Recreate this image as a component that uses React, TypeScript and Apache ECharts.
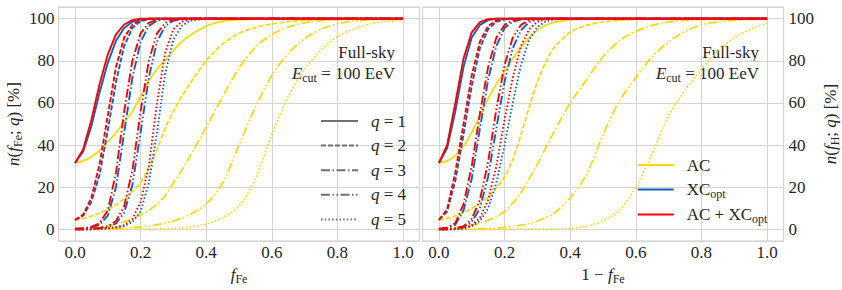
import React, { useEffect, useRef } from 'react';
import * as echarts from 'echarts';

// x grid (fraction), shared by all curves
const X = [0, 0.025, 0.05, 0.075, 0.1, 0.125, 0.15, 0.175, 0.2, 0.225, 0.25, 0.275, 0.3, 0.325, 0.35, 0.4, 0.45, 0.5, 0.55, 0.6, 0.65, 0.7, 0.75, 0.8, 0.85, 0.9, 0.95, 1.0];

const METHODS = ['AC', 'XC_opt', 'AC + XC_opt'];
const Q_LABELS = ['q = 1', 'q = 2', 'q = 3', 'q = 4', 'q = 5'];

// ---- Left panel: n(f_Fe; q) [%] vs f_Fe ----
const L_AC_1 = [31.5, 32.5, 34.5, 37.5, 41.5, 46, 51, 56, 63, 70.5, 76, 80.5, 85, 89, 92, 96.5, 98.7, 99.5, 99.8, 100, 100, 100, 100, 100, 100, 100, 100, 100];
const L_AC_2 = [4.5, 5.2, 6.3, 7.7, 9.5, 11.7, 14.5, 18, 22, 29.5, 38, 48, 56, 63, 69, 80, 88, 93, 95.8, 97.5, 98.6, 99.2, 99.6, 99.8, 100, 100, 100, 100];
const L_AC_3 = [0.3, 0.5, 0.8, 1.2, 1.8, 2.6, 3.6, 5, 6.8, 9, 12, 16, 22, 28, 34.5, 48.5, 63, 76.5, 86.5, 92.5, 96, 98, 99, 99.5, 99.8, 100, 100, 100];
const L_AC_4 = [0, 0.05, 0.1, 0.2, 0.3, 0.45, 0.6, 0.9, 1.2, 1.6, 2.2, 3, 4, 5.3, 7, 12, 22, 40, 58, 73, 83.5, 90.5, 95, 97.5, 98.8, 99.4, 99.7, 99.9];
const L_AC_5 = [0, 0, 0, 0, 0, 0.05, 0.05, 0.1, 0.1, 0.15, 0.2, 0.3, 0.5, 0.7, 1, 2.5, 5.5, 11, 24, 45, 63, 76, 85, 91.5, 95, 97.5, 98.7, 99.3];

const L_XC_1 = [31.5, 37, 49, 65, 79, 89.5, 95.5, 98.5, 99.6, 99.9, 100, 100, 100, 100, 100, 100, 100, 100, 100, 100, 100, 100, 100, 100, 100, 100, 100, 100];
const L_XC_2 = [4.5, 6.5, 13, 26, 47, 70, 87, 95.5, 98.8, 99.7, 100, 100, 100, 100, 100, 100, 100, 100, 100, 100, 100, 100, 100, 100, 100, 100, 100, 100];
const L_XC_3 = [0.3, 0.5, 0.9, 2.2, 6.5, 20, 46, 72, 89, 96.5, 99, 99.7, 100, 100, 100, 100, 100, 100, 100, 100, 100, 100, 100, 100, 100, 100, 100, 100];
const L_XC_4 = [0, 0.1, 0.3, 0.5, 1, 2.8, 8, 21, 46, 72, 89, 96.5, 99, 99.7, 100, 100, 100, 100, 100, 100, 100, 100, 100, 100, 100, 100, 100, 100];
const L_XC_5 = [0, 0, 0.1, 0.3, 0.5, 1, 1.6, 3.5, 8.5, 22, 46, 74, 90, 96.5, 99, 100, 100, 100, 100, 100, 100, 100, 100, 100, 100, 100, 100, 100];

const L_ACXC_1 = [31.5, 38, 52, 69, 83, 92.5, 97.2, 99.3, 99.9, 100, 100, 100, 100, 100, 100, 100, 100, 100, 100, 100, 100, 100, 100, 100, 100, 100, 100, 100];
const L_ACXC_2 = [4.5, 7, 15, 31, 54, 77, 91, 97, 99.3, 99.9, 100, 100, 100, 100, 100, 100, 100, 100, 100, 100, 100, 100, 100, 100, 100, 100, 100, 100];
const L_ACXC_3 = [0.3, 0.6, 1.2, 3, 9, 27, 56, 80, 93, 98, 99.5, 100, 100, 100, 100, 100, 100, 100, 100, 100, 100, 100, 100, 100, 100, 100, 100, 100];
const L_ACXC_4 = [0, 0.1, 0.3, 0.7, 1.5, 4, 11, 28, 56, 80, 93, 98, 99.5, 99.9, 100, 100, 100, 100, 100, 100, 100, 100, 100, 100, 100, 100, 100, 100];
const L_ACXC_5 = [0, 0, 0.1, 0.3, 0.6, 1, 2, 5, 13, 30, 60, 84, 95, 98.5, 99.6, 100, 100, 100, 100, 100, 100, 100, 100, 100, 100, 100, 100, 100];

// ---- Right panel: n(f_H; q) [%] vs 1 - f_Fe ----
const R_AC_1 = [31.5, 32.5, 35, 39.5, 46, 54, 62, 69, 75, 81, 86.5, 91, 94.5, 96.8, 98.2, 99.5, 99.9, 100, 100, 100, 100, 100, 100, 100, 100, 100, 100, 100];
const R_AC_2 = [4.5, 5.2, 6.3, 7.9, 10, 12.5, 15.5, 19.5, 25, 33, 45, 58, 70, 79, 86, 93.5, 96.8, 98.4, 99.2, 99.6, 99.8, 99.9, 100, 100, 100, 100, 100, 100];
const R_AC_3 = [0.3, 0.5, 0.8, 1.3, 2, 3, 4.3, 6, 8.5, 12.5, 17.5, 24, 31, 38.5, 46, 60, 71, 82, 89.5, 94, 96.8, 98.4, 99.2, 99.6, 99.8, 100, 100, 100];
const R_AC_4 = [0, 0.05, 0.1, 0.15, 0.2, 0.3, 0.5, 0.7, 1, 1.4, 2, 2.8, 4, 5.5, 7.5, 15, 26, 45, 61, 72, 82, 89, 94, 97, 98.5, 99.2, 99.6, 99.8];
const R_AC_5 = [0, 0, 0, 0, 0, 0, 0, 0.05, 0.05, 0.1, 0.1, 0.1, 0.1, 0.15, 0.2, 0.5, 1.5, 4, 9, 20, 36, 54, 66, 76, 84.5, 91, 95, 97.8];

const R_XC_1 = [31.5, 38.5, 56, 77, 91, 97, 99.3, 99.9, 100, 100, 100, 100, 100, 100, 100, 100, 100, 100, 100, 100, 100, 100, 100, 100, 100, 100, 100, 100];
const R_XC_2 = [4.5, 8.5, 23, 45, 68, 86, 95, 98.5, 99.6, 100, 100, 100, 100, 100, 100, 100, 100, 100, 100, 100, 100, 100, 100, 100, 100, 100, 100, 100];
const R_XC_3 = [0.3, 0.6, 2.2, 9, 24, 48, 71, 87, 95.5, 98.5, 99.6, 100, 100, 100, 100, 100, 100, 100, 100, 100, 100, 100, 100, 100, 100, 100, 100, 100];
const R_XC_4 = [0, 0.1, 0.4, 1, 3.5, 10, 25, 48, 70, 86, 94.5, 98.3, 99.5, 99.9, 100, 100, 100, 100, 100, 100, 100, 100, 100, 100, 100, 100, 100, 100];
const R_XC_5 = [0, 0, 0.1, 0.3, 1.5, 4, 10, 22, 40, 60, 78, 90, 96, 98.7, 99.6, 100, 100, 100, 100, 100, 100, 100, 100, 100, 100, 100, 100, 100];

const R_ACXC_1 = [31.5, 40, 60, 81, 93.5, 98.3, 99.7, 100, 100, 100, 100, 100, 100, 100, 100, 100, 100, 100, 100, 100, 100, 100, 100, 100, 100, 100, 100, 100];
const R_ACXC_2 = [4.5, 9.5, 27, 50, 73, 89, 96.5, 99, 99.8, 100, 100, 100, 100, 100, 100, 100, 100, 100, 100, 100, 100, 100, 100, 100, 100, 100, 100, 100];
const R_ACXC_3 = [0.3, 0.8, 3, 12, 30, 55, 77, 91, 97, 99.2, 99.8, 100, 100, 100, 100, 100, 100, 100, 100, 100, 100, 100, 100, 100, 100, 100, 100, 100];
const R_ACXC_4 = [0, 0.1, 0.6, 1.5, 5, 14, 32, 57, 78, 91, 97, 99.2, 99.8, 100, 100, 100, 100, 100, 100, 100, 100, 100, 100, 100, 100, 100, 100, 100];
const R_ACXC_5 = [0, 0, 0.2, 0.6, 2, 5.5, 14, 30, 52, 72, 87, 95, 98.5, 99.6, 100, 100, 100, 100, 100, 100, 100, 100, 100, 100, 100, 100, 100, 100];

const LEFT: Record<string, number[][]> = {
  'AC': [L_AC_1, L_AC_2, L_AC_3, L_AC_4, L_AC_5],
  'XC_opt': [L_XC_1, L_XC_2, L_XC_3, L_XC_4, L_XC_5],
  'AC + XC_opt': [L_ACXC_1, L_ACXC_2, L_ACXC_3, L_ACXC_4, L_ACXC_5],
};
const RIGHT: Record<string, number[][]> = {
  'AC': [R_AC_1, R_AC_2, R_AC_3, R_AC_4, R_AC_5],
  'XC_opt': [R_XC_1, R_XC_2, R_XC_3, R_XC_4, R_XC_5],
  'AC + XC_opt': [R_ACXC_1, R_ACXC_2, R_ACXC_3, R_ACXC_4, R_ACXC_5],
};

const COLORS: Record<string, string> = { 'AC': '#ffd700', 'XC_opt': '#1560bd', 'AC + XC_opt': '#fe0000' };
const DASHES: any[] = ['solid', [5, 2], [9, 2.5, 1.5, 2.5], [9, 2.5, 1.5, 2.5, 1.5, 2.5], [1.5, 2.2]];
const LEGEND_GRAY = '#707070';

const FONT = "'Liberation Serif', 'Times New Roman', serif";
const TXT = '#262626';
const RICH = {
  t: { fontFamily: FONT, fontSize: 17, color: TXT },
  i: { fontFamily: FONT, fontSize: 17, fontStyle: 'italic', color: TXT },
  s: { fontFamily: FONT, fontSize: 12, color: TXT, padding: [9, 0, 0, 0] },
};
const G_RICH = {
  t: { fontFamily: FONT, fontSize: 17, fill: TXT },
  i: { fontFamily: FONT, fontSize: 17, fontStyle: 'italic', fill: TXT },
  s: { fontFamily: FONT, fontSize: 12, fill: TXT, padding: [9, 0, 0, 0] },
};

function buildSeries(panel: number, table: Record<string, number[][]>) {
  const out: any[] = [];
  METHODS.forEach((m) => {
    table[m].forEach((ys, q) => {
      out.push({
        type: 'line',
        name: m,
        xAxisIndex: panel,
        yAxisIndex: panel,
        data: X.map((x, i) => [x, ys[i]]),
        symbol: 'none',
        smooth: m === 'AC' ? 0.25 : false,
        silent: true,
        clip: true,
        lineStyle: { color: COLORS[m], width: m === 'AC' ? 1.7 : 1.9, type: DASHES[q] },
        itemStyle: { color: COLORS[m] },
      });
    });
  });
  return out;
}

const qLegendSeries = Q_LABELS.map((name, q) => ({
  type: 'line',
  name,
  xAxisIndex: 0,
  yAxisIndex: 0,
  data: [],
  symbol: 'none',
  lineStyle: { color: LEGEND_GRAY, width: 1.5, type: DASHES[q] },
  itemStyle: { color: LEGEND_GRAY },
}));

const fmtX = (v: number) => (Math.abs(v / 0.2 - Math.round(v / 0.2)) < 1e-6 ? v.toFixed(1) : '');
const fmtY = (v: number) => (Math.abs(v / 20 - Math.round(v / 20)) < 1e-6 ? String(Math.round(v)) : '');

function xAxis(grid: number, name: string) {
  return {
    type: 'value', gridIndex: grid, min: -0.05, max: 1.05, splitNumber: 5,
    axisLine: { show: false }, axisTick: { show: false },
    axisLabel: { formatter: fmtX, color: TXT, fontFamily: FONT, fontSize: 17, margin: 3 },
    splitLine: { show: true, lineStyle: { color: '#d5d5d5', width: 1 } },
    name, nameLocation: 'middle', nameGap: 23, nameTextStyle: { rich: RICH },
  };
}
function yAxis(grid: number, name: string, right: boolean) {
  return {
    type: 'value', gridIndex: grid, min: -5.5, max: 105.5, splitNumber: 5,
    position: right ? 'right' : 'left',
    axisLine: { show: false }, axisTick: { show: false },
    axisLabel: { formatter: fmtY, color: TXT, fontFamily: FONT, fontSize: 17, margin: right ? 5 : 4 },
    splitLine: { show: true, lineStyle: { color: '#d5d5d5', width: 1 } },
    name, nameLocation: 'middle', nameRotate: 90, nameGap: right ? 36 : 35, nameTextStyle: { rich: RICH },
  };
}

const option: any = {
  animation: false,
  backgroundColor: '#ffffff',
  grid: [
    { left: 58.6, top: 7, width: 360.8, height: 235, show: true, borderColor: '#cccccc', borderWidth: 1.25, backgroundColor: 'transparent' },
    { left: 422.5, top: 7, width: 361, height: 235, show: true, borderColor: '#cccccc', borderWidth: 1.25, backgroundColor: 'transparent' },
  ],
  xAxis: [xAxis(0, '{i|f}{s|Fe}'), xAxis(1, '{t|1 − }{i|f}{s|Fe}')],
  yAxis: [
    yAxis(0, '{i|n}{t|(}{i|f}{s|Fe}{t|; }{i|q}{t|) [%]}', false),
    yAxis(1, '{i|n}{t|(}{i|f}{s|H}{t|; }{i|q}{t|) [%]}', true),
  ],
  legend: [
    {
      data: Q_LABELS, orient: 'vertical', left: 315, top: 106,
      itemWidth: 37, itemHeight: 14, itemGap: 4.6, selectedMode: false,
      itemStyle: { opacity: 0 },
      formatter: (n: string) => `{i|q}{t| = ${n.slice(4)}}`,
      textStyle: { rich: RICH, padding: [0, 0, 0, 8], lineHeight: 20 },
    },
    {
      data: METHODS, orient: 'vertical', left: 631.7, top: 150,
      itemWidth: 36, itemHeight: 14, itemGap: 4.5, selectedMode: false,
      itemStyle: { opacity: 0 },
      formatter: (n: string) => n === 'AC' ? '{t|AC}' : n === 'XC_opt' ? '{t|XC}{s|opt}' : '{t|AC + XC}{s|opt}',
      textStyle: { rich: RICH, padding: [0, 0, 0, 8], lineHeight: 20 },
    },
  ],
  graphic: [
    { type: 'text', x: 395, y: 52, silent: true, style: { text: '{t|Full-sky}', rich: G_RICH, align: 'right', verticalAlign: 'middle' } },
    { type: 'text', x: 395, y: 73, silent: true, style: { text: '{i|E}{s|cut}{t| = 100 EeV}', rich: G_RICH, align: 'right', verticalAlign: 'middle' } },
    { type: 'text', x: 759, y: 52, silent: true, style: { text: '{t|Full-sky}', rich: G_RICH, align: 'right', verticalAlign: 'middle' } },
    { type: 'text', x: 759, y: 73, silent: true, style: { text: '{i|E}{s|cut}{t| = 100 EeV}', rich: G_RICH, align: 'right', verticalAlign: 'middle' } },
  ],
  series: [...buildSeries(0, LEFT), ...buildSeries(1, RIGHT), ...qLegendSeries],
};

export default function App() {
  const ref = useRef<HTMLDivElement>(null);
  useEffect(() => {
    const chart = echarts.init(ref.current!, null, { renderer: 'svg' });
    chart.setOption(option);
    return () => chart.dispose();
  }, []);
  return (
    <div
      ref={ref}
      style={{ position: 'fixed', left: 0, top: 0, width: 842, height: 290, background: '#ffffff' }}
    />
  );
}
